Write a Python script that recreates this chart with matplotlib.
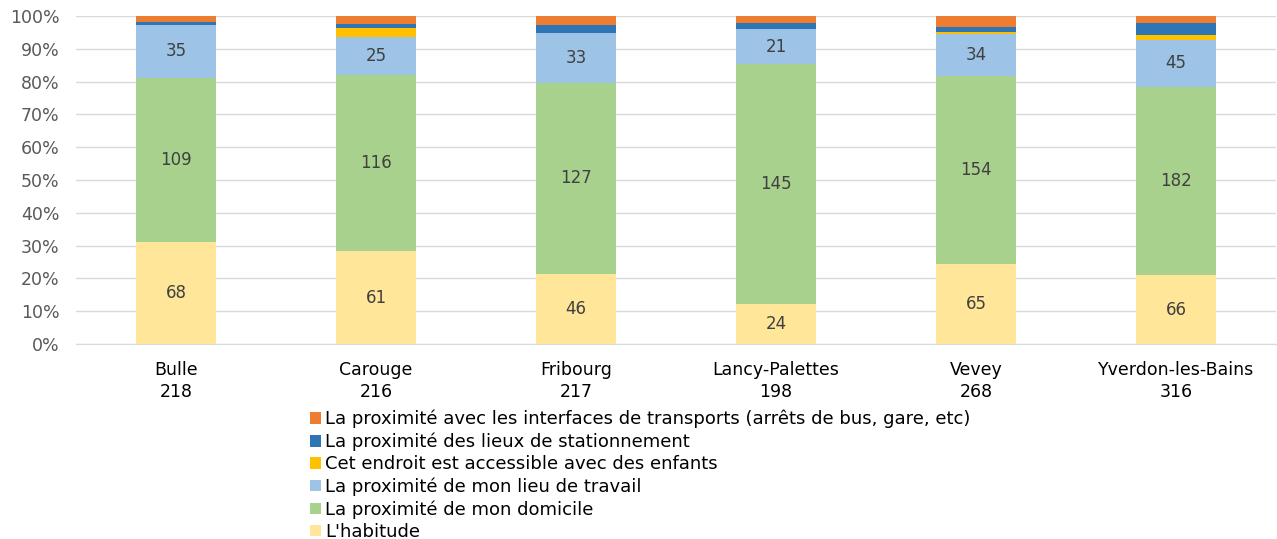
import matplotlib
matplotlib.use("Agg")
import matplotlib.pyplot as plt
import numpy as np

plt.rcParams['font.family'] = ['DejaVu Sans']

villes = ["Bulle", "Carouge", "Fribourg", "Lancy-Palettes", "Vevey", "Yverdon-les-Bains"]
totaux = [218, 216, 217, 198, 268, 316]
habitude = [68, 61, 46, 24, 65, 66]
domicile = [109, 116, 127, 145, 154, 182]
travail = [35, 25, 33, 21, 34, 45]
enfants = [0, 6, 0, 0, 2, 5]
stationnement = [2, 3, 5, 4, 4, 11]
transports = [4, 5, 6, 4, 9, 7]

series = [
    ("L'habitude", habitude, "#FFE699", True),
    ("La proximité de mon domicile", domicile, "#A9D18E", True),
    ("La proximité de mon lieu de travail", travail, "#9DC3E6", True),
    ("Cet endroit est accessible avec des enfants", enfants, "#FFC000", False),
    ("La proximité des lieux de stationnement", stationnement, "#2E75B6", False),
    ("La proximité avec les interfaces de transports (arrêts de bus, gare, etc)", transports, "#ED7D31", False),
]

FS = 12.5

fig = plt.figure(figsize=(12.77, 5.39), dpi=100)
ax = fig.add_axes([76/1277, 1-344/539, 1200/1277, 328/539])

x = np.arange(len(villes))
sums = np.array([sum(s[1][i] for s in series) for i in range(len(villes))], dtype=float)
bottom = np.zeros(len(villes))
handles = []
for name, vals, col, lab in series:
    pct = np.array(vals) / sums * 100
    b = ax.bar(x, pct, 0.4, bottom=bottom, color=col, label=name, zorder=3)
    handles.append(b)
    if lab:
        for i in range(len(villes)):
            ax.text(x[i], bottom[i] + pct[i] / 2, str(vals[i]), ha='center', va='center',
                    fontsize=12, color='#404040', zorder=4)
    bottom += pct

ax.set_xlim(-0.5, len(villes) - 0.5)
ax.set_ylim(0, 100)
ax.set_yticks(np.arange(0, 101, 10))
ax.set_yticklabels([f"{v}%" for v in range(0, 101, 10)], fontsize=FS, color='#595959')
ax.set_xticks(x)
ax.set_xticklabels([f"{v}\n{t}" for v, t in zip(villes, totaux)], fontsize=FS, color='#000000',
                   linespacing=1.3)
ax.tick_params(axis='y', length=0, pad=12)
ax.tick_params(axis='x', length=0, pad=12)
ax.grid(axis='y', color='#D9D9D9', linewidth=1, zorder=0)
for s in ['top', 'right', 'left']:
    ax.spines[s].set_visible(False)
ax.spines['bottom'].set_color('#D9D9D9')

leg = fig.legend(handles[::-1], [s[0] for s in series][::-1], loc='upper left',
                 bbox_to_anchor=(310/1277, 1-410/539), frameon=False, fontsize=13,
                 handlelength=0.6, handleheight=0.6, handletextpad=0.25,
                 labelspacing=0.23, borderpad=0, borderaxespad=0)

fig.savefig("out.png", dpi=100)
